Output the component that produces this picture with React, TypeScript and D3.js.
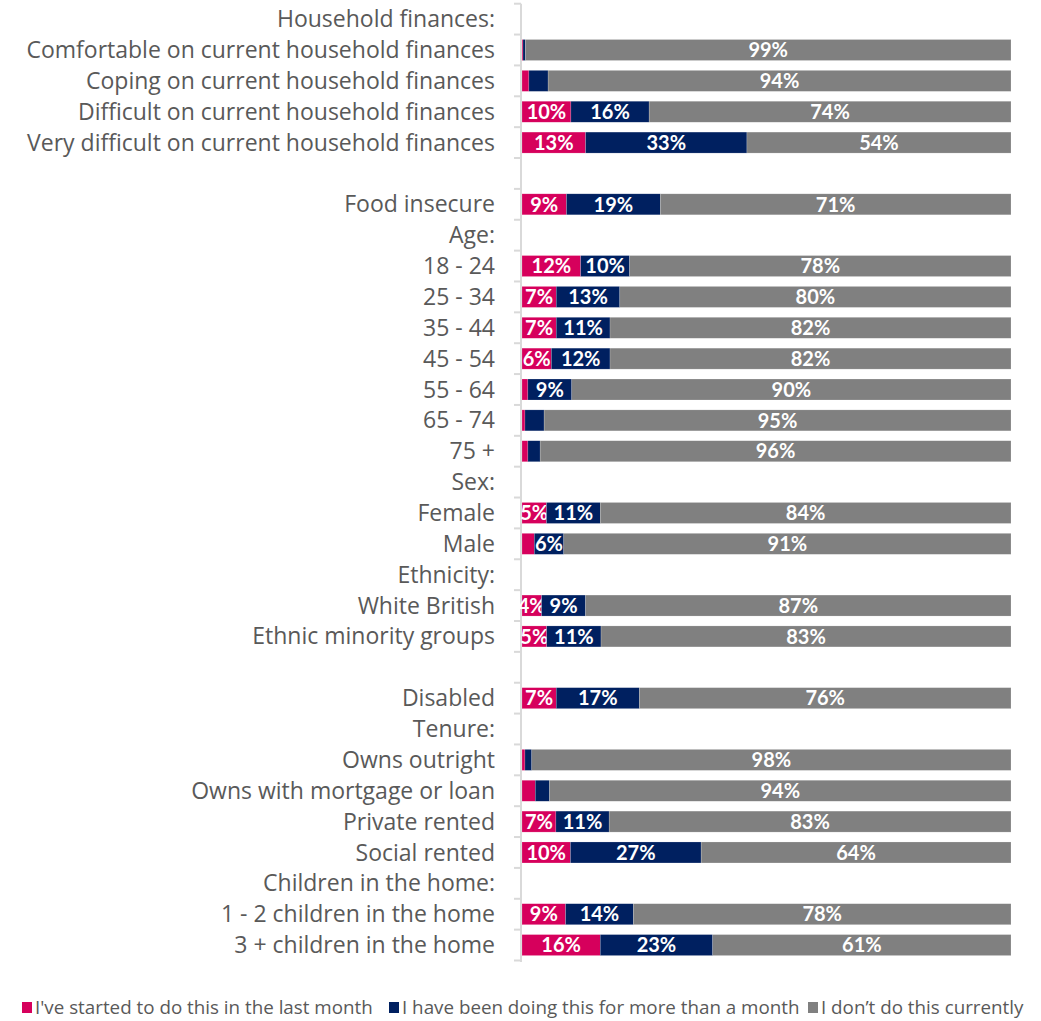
import React, { useRef, useEffect } from 'react';
import * as d3 from 'd3';

const categories = [
  'Household finances:',
  'Comfortable on current household finances',
  'Coping on current household finances',
  'Difficult on current household finances',
  'Very difficult on current household finances',
  ' ',
  'Food insecure',
  'Age:',
  '18 - 24',
  '25 - 34',
  '35 - 44',
  '45 - 54',
  '55 - 64',
  '65 - 74',
  '75 +',
  'Sex:',
  'Female',
  'Male',
  'Ethnicity:',
  'White British',
  'Ethnic minority groups',
  '  ',
  'Disabled',
  'Tenure:',
  'Owns outright',
  'Owns with mortgage or loan',
  'Private rented',
  'Social rented',
  'Children in the home:',
  '1 - 2 children in the home',
  '3 + children in the home',
];

// null = heading / spacer rows
const startedLastMonth = [null, 0.2, 1.4, 10, 13, null, 9, null, 12, 7, 7, 6, 1.2, 0.6, 1.2, null, 5, 2.5, null, 4, 5, null, 7, null, 0.6, 2.7, 7, 10, null, 9, 16];
const moreThanMonth = [null, 0.5, 3.9, 16, 33, null, 19, null, 10, 13, 11, 12, 9, 3.9, 2.5, null, 11, 6, null, 9, 11, null, 17, null, 1.4, 2.9, 11, 27, null, 14, 23];
const notCurrently = [null, 99, 94, 74, 54, null, 71, null, 78, 80, 82, 82, 90, 95, 96, null, 84, 91, null, 87, 83, null, 76, null, 98, 94, 83, 64, null, 78, 61];

const seriesNames = [
  "I've started to do this in the last month",
  'I have been doing this for more than a month',
  'I don\u2019t do this currently',
];
const seriesColors = ['#D6005C', '#002060', '#808080'];

const W = 1041;
const H = 1021;

const App: React.FC = () => {
  const svgRef = useRef<SVGSVGElement>(null);

  useEffect(() => {
    if (!svgRef.current) return;
    const svg = d3.select(svgRef.current);
    svg.selectAll('*').remove();

    const rows = categories.map((c, i) => ({
      key: String(i),
      label: c,
      s0: startedLastMonth[i] ?? 0,
      s1: moreThanMonth[i] ?? 0,
      s2: notCurrently[i] ?? 0,
      hasData: startedLastMonth[i] !== null,
    }));

    const y = d3.scaleBand<string>()
      .domain(rows.map(r => r.key))
      .range([3.7, 960.5])
      .paddingInner(0.32)
      .paddingOuter(0.16);

    const x = d3.scaleLinear().domain([0, 1]).range([522, 1011]);

    const stack = d3.stack<any>()
      .keys(['s0', 's1', 's2'])
      .offset(d3.stackOffsetExpand);
    const stacked = stack(rows.filter(r => r.hasData));

    const step = y.step();
    const y0 = y.range()[0];

    // axis
    const axis = svg.append('g');
    axis.append('line')
      .attr('x1', 521).attr('x2', 521)
      .attr('y1', y0).attr('y2', 962)
      .attr('stroke', '#d9d9d9').attr('stroke-width', 2);
    d3.range(categories.length + 1).forEach(i => {
      axis.append('line')
        .attr('x1', 514).attr('x2', 521)
        .attr('y1', y0 + i * step).attr('y2', y0 + i * step)
        .attr('stroke', '#d9d9d9').attr('stroke-width', 2);
    });

    // category labels
    svg.append('g').selectAll('text')
      .data(rows)
      .join('text')
      .attr('x', 495)
      .attr('y', d => y(d.key)! + y.bandwidth() / 2)
      .attr('dy', '0.35em')
      .attr('text-anchor', 'end')
      .attr('font-family', 'Open Sans, sans-serif')
      .attr('font-size', 23)
      .attr('fill', '#595959')
      .text(d => d.label);

    // bars
    stacked.forEach((layer, li) => {
      const g = svg.append('g');
      g.selectAll('rect')
        .data(layer)
        .join('rect')
        .attr('x', d => x(d[0]))
        .attr('y', d => y(d.data.key)!)
        .attr('width', d => x(d[1]) - x(d[0]))
        .attr('height', y.bandwidth())
        .attr('fill', seriesColors[li])
        .attr('stroke', '#ffffff')
        .attr('stroke-opacity', 0.35)
        .attr('stroke-width', 0.5);

      g.selectAll('text')
        .data(layer.filter(d => (d.data as any)[layer.key] >= 4))
        .join('text')
        .attr('x', d => (x(d[0]) + x(d[1])) / 2)
        .attr('y', d => y(d.data.key)! + y.bandwidth() / 2)
        .attr('dy', '0.36em')
        .attr('text-anchor', 'middle')
        .attr('font-family', 'Lato, sans-serif')
        .attr('font-weight', 700)
        .attr('font-size', 20)
        .attr('fill', '#ffffff')
        .text(d => `${Math.round((d.data as any)[layer.key])}%`);
    });

    // legend
    const legendX = [22, 389, 808];
    const legend = svg.append('g');
    seriesNames.forEach((name, i) => {
      legend.append('rect')
        .attr('x', legendX[i]).attr('y', 1002)
        .attr('width', 10).attr('height', 11)
        .attr('fill', seriesColors[i]);
      legend.append('text')
        .attr('x', legendX[i] + 13)
        .attr('y', 1007.5)
        .attr('dy', '0.35em')
        .attr('font-family', 'Open Sans, sans-serif')
        .attr('font-size', 18.8)
        .attr('fill', '#595959')
        .text(name);
    });
  }, []);

  return (
    <svg
      ref={svgRef}
      width={W}
      height={H}
      style={{ position: 'absolute', top: 0, left: 0, background: '#fff' }}
    />
  );
};

export default App;
